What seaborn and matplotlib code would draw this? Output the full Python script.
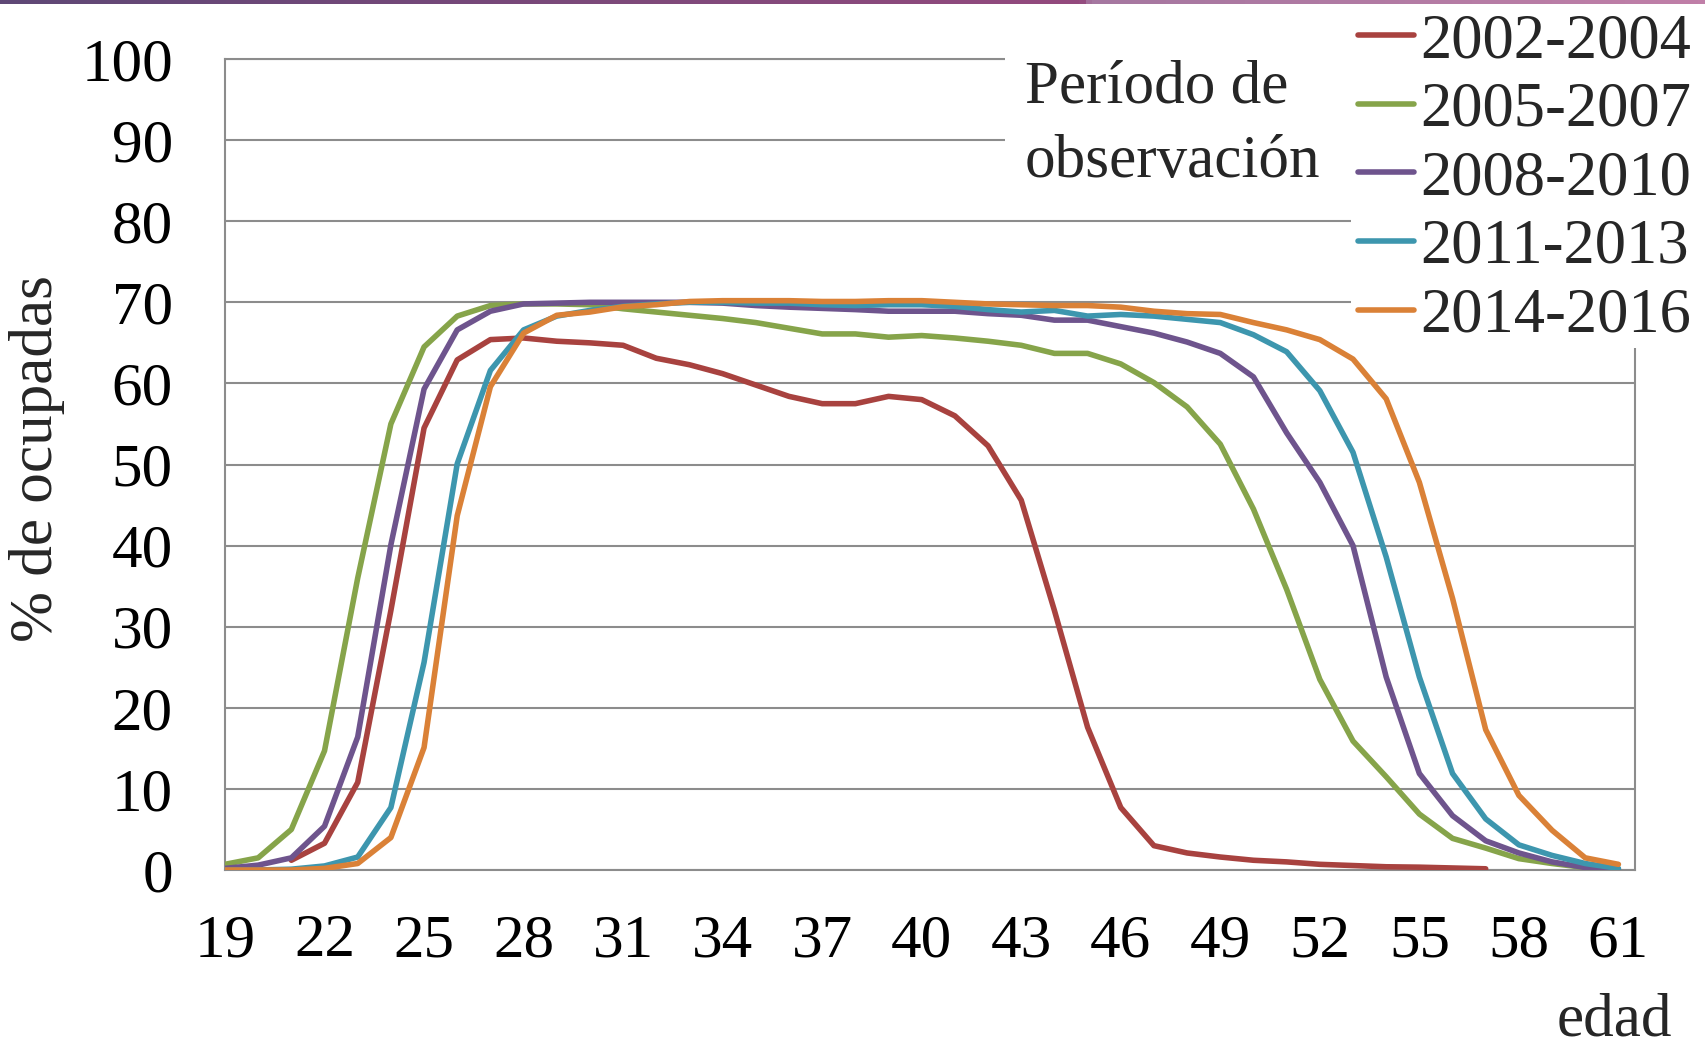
import numpy as np
import pandas as pd
import matplotlib
matplotlib.use("Agg")
import matplotlib.pyplot as plt
import seaborn as sns
from matplotlib.colors import LinearSegmentedColormap
from matplotlib.patches import Rectangle

# datos (% de ocupadas por edad)
periodos = ["2002-2004", "2005-2007", "2008-2010", "2011-2013", "2014-2016"]
colores = ["#A8423F", "#86A44A", "#6E548D", "#3D96AE", "#DA8137"]

edades = list(range(19, 62))
edades_2002 = list(range(21, 58))

ocup_2002 = [1.2, 3.3, 10.8, 32.0, 54.5, 62.9, 65.4, 65.6, 65.2, 65.0, 64.7, 63.1,
             62.3, 61.2, 59.8, 58.4, 57.5, 57.5, 58.4, 58.0, 56.0, 52.3, 45.6, 32.0,
             17.6, 7.7, 3.0, 2.1, 1.6, 1.2, 1.0, 0.7, 0.55, 0.4, 0.35, 0.25, 0.15]
ocup_2005 = [0.7, 1.5, 5.0, 14.7, 36.0, 55.0, 64.5, 68.3, 69.6, 69.8, 69.8, 69.7,
             69.2, 68.8, 68.4, 68.0, 67.5, 66.8, 66.1, 66.1, 65.7, 65.9, 65.6, 65.2,
             64.7, 63.7, 63.7, 62.4, 60.1, 57.1, 52.5, 44.5, 34.6, 23.5, 15.9, 11.5,
             6.9, 3.9, 2.7, 1.4, 0.8, 0.3, 0.1]
ocup_2008 = [0.2, 0.6, 1.5, 5.4, 16.4, 40.1, 59.3, 66.6, 68.9, 69.8, 69.9, 70.0,
             70.0, 70.0, 70.0, 69.9, 69.6, 69.4, 69.25, 69.1, 68.9, 68.9, 68.9, 68.6,
             68.4, 67.8, 67.8, 67.0, 66.2, 65.1, 63.7, 60.8, 53.9, 47.8, 40.0, 23.8,
             11.9, 6.7, 3.6, 2.1, 1.0, 0.3, 0.1]
ocup_2011 = [0.0, 0.0, 0.1, 0.5, 1.6, 7.7, 25.6, 50.1, 61.6, 66.6, 68.3, 69.0,
             69.5, 69.8, 70.0, 70.0, 69.9, 69.9, 69.7, 69.6, 69.7, 69.7, 69.5, 69.1,
             68.8, 69.0, 68.3, 68.5, 68.3, 67.9, 67.5, 66.0, 63.9, 59.1, 51.5, 38.6,
             23.8, 11.9, 6.3, 3.1, 1.8, 0.8, 0.2]
ocup_2014 = [0.0, 0.0, 0.0, 0.2, 0.8, 4.0, 15.1, 43.7, 59.6, 66.2, 68.4, 68.8,
             69.45, 69.7, 70.1, 70.2, 70.2, 70.2, 70.1, 70.1, 70.2, 70.2, 70.0, 69.8,
             69.7, 69.6, 69.6, 69.4, 68.9, 68.6, 68.5, 67.5, 66.6, 65.4, 63.0, 58.1,
             47.8, 33.5, 17.3, 9.2, 4.9, 1.5, 0.7]

x_ticks = list(range(19, 62, 3))
y_ticks = list(range(0, 101, 10))

# tabla larga para seaborn
partes = [pd.DataFrame({"edad": edades_2002, "pct": ocup_2002, "periodo": periodos[0]})]
for p, vals in zip(periodos[1:], [ocup_2005, ocup_2008, ocup_2011, ocup_2014]):
    partes.append(pd.DataFrame({"edad": edades, "pct": vals, "periodo": p}))
df = pd.concat(partes, ignore_index=True)

sns.set_style("white")
plt.rcParams["font.family"] = ["Liberation Serif", "DejaVu Serif"]

GRIS = "#8C8C8C"
FS = 44

fig = plt.figure(figsize=(17.05, 10.5), dpi=100)
ax = fig.add_axes([225 / 1705, 1 - 870 / 1050, (1635 - 225) / 1705, (870 - 59) / 1050])

sns.lineplot(data=df, x="edad", y="pct", hue="periodo", hue_order=periodos,
             palette=colores, linewidth=4, sort=False, legend=False, ax=ax)
for ln in ax.lines:
    ln.set_solid_capstyle("round")
    ln.set_solid_joinstyle("round")
    ln.set_zorder(3)

ax.set_xlim(19, 61.5)
ax.set_ylim(0, 100)
ax.set_xticks(x_ticks)
ax.set_yticks(y_ticks)
ax.set_xlabel("")
ax.set_ylabel("")
ax.grid(axis="y", color=GRIS, linewidth=1.5)
ax.set_axisbelow(True)
for s in ax.spines.values():
    s.set_color(GRIS)
    s.set_linewidth(1.5)
ax.tick_params(axis="both", direction="out", length=13.5, width=1.5, color=GRIS,
               labelsize=FS, labelcolor="black")
ax.tick_params(axis="y", pad=24)
ax.tick_params(axis="x", pad=18)

# cajas blancas del título de la leyenda y de la leyenda
fig.patches.append(Rectangle((1005 / 1705, 1 - 205 / 1050), 346 / 1705, 205 / 1050,
                             transform=fig.transFigure, facecolor="white",
                             edgecolor="none", zorder=5))
fig.patches.append(Rectangle((1351 / 1705, 1 - 348 / 1050), 354 / 1705, 348 / 1050,
                             transform=fig.transFigure, facecolor="white",
                             edgecolor="none", zorder=5))

fig.text(1025 / 1705, 1 - 60 / 1050, "Período de\nobservación", fontsize=FS,
         ha="left", va="top", linespacing=1.45, zorder=6)

handles = ax.lines[:len(periodos)]
leg = fig.legend(handles, periodos, loc="upper left",
                 bbox_to_anchor=(1358 / 1705, 1 - 13 / 1050), fontsize=FS + 1,
                 frameon=False, handlelength=0.9, handletextpad=0.1,
                 labelspacing=0.17, borderpad=0, borderaxespad=0)
leg.set_zorder(7)

fig.text(37 / 1705, 1 - 458 / 1050, "% de ocupadas", fontsize=FS, rotation=90,
         ha="center", va="center")
fig.text(1672 / 1705, 1 - 1048 / 1050, "edad", fontsize=FS, ha="right", va="bottom")

# barra decorativa superior
barra = fig.add_axes([0, 1 - 4 / 1050, 1, 4 / 1050])
barra.set_zorder(10)
cmap = LinearSegmentedColormap.from_list(
    "barra", [(0, "#5F4876"), (0.635, "#944A7E"), (0.64, "#A577A0"), (1, "#C07FA8")])
barra.imshow(np.linspace(0, 1, 512)[None, :], aspect="auto", cmap=cmap)
barra.axis("off")

fig.savefig("out.png", dpi=100)
